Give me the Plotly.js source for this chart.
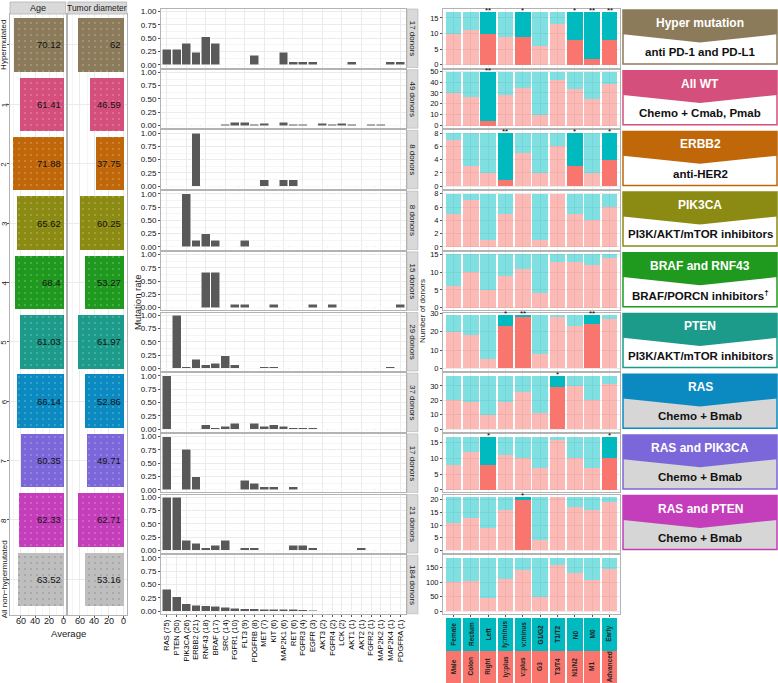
<!DOCTYPE html>
<html><head><meta charset="utf-8">
<script src="https://cdn.plot.ly/plotly-3.0.1.min.js"></script>
<style>html,body{margin:0;padding:0;background:#fff}</style>
</head><body><div id="chart" style="width:778px;height:683px"></div>
<script>
// ---------------- DATA ----------------
const groups = ['Hypermutated','1','2','3','4','5','6','7','8','All non\u2212hypermutated'];
const ageAvg = [70.12, 61.41, 71.88, 65.62, 68.4, 61.03, 66.14, 60.35, 62.33, 63.52];
const tumorAvg = [62, 46.59, 37.75, 60.25, 53.27, 61.97, 52.86, 49.71, 62.71, 53.16];
const donorCounts = [17, 49, 8, 8, 15, 29, 37, 17, 21, 184];
const averageTicks = [0, 20, 40, 60];

const genes = ['RAS (75)','PTEN (50)','PIK3CA (26)','ERBB2 (21)','RNF43 (18)','BRAF (17)','SRC (14)','FGFR1 (10)','FLT3 (9)','PDGFRB (8)','MET (7)','KIT (6)','MAP2K1 (6)','RET (6)','FGFR3 (4)','EGFR (3)','AKT3 (2)','FGFR4 (2)','LCK (2)','AKT1 (1)','AKT2 (1)','FGFR2 (1)','MAP2K2 (1)','MAP2K4 (1)','PDGFRA (1)'];

const rateHyper    = [0.29,0.29,0.41,0.24,0.53,0.41,0,0,0,0.18,0,0,0.24,0.06,0.06,0.06,0,0,0,0.06,0,0,0,0.06,0.06];
const rateAllWT    = [0,0,0,0,0,0,0.02,0.06,0.06,0.02,0.04,0,0.06,0.02,0.02,0,0.04,0.02,0.04,0.02,0,0.02,0.02,0,0];
const rateERBB2    = [0,0,0,1,0,0,0,0,0,0,0.125,0,0.125,0.125,0,0,0,0,0,0,0,0,0,0,0];
const ratePIK3CA   = [0,0,1,0.125,0.25,0.125,0,0,0.125,0,0,0,0,0,0,0,0,0,0,0,0,0,0,0,0];
const rateBRAF     = [0,0,0,0,0.67,0.67,0,0.067,0.067,0,0,0.067,0,0,0,0.067,0,0.067,0,0,0,0,0,0,0.067];
const ratePTEN     = [0,1,0.034,0.17,0.07,0.10,0.24,0.07,0,0,0.034,0.034,0,0,0,0,0,0,0,0,0,0,0,0.034,0];
const rateRAS      = [1,0,0,0,0.081,0.027,0.054,0.108,0,0.108,0.054,0.081,0.054,0.027,0.027,0.027,0,0,0,0,0,0,0,0,0];
const rateRASPIK   = [1,0,0.76,0.24,0,0,0,0,0.18,0.12,0.06,0.06,0,0.06,0,0,0,0,0,0,0,0,0,0,0];
const rateRASPTEN  = [1,1,0.19,0.14,0.05,0.095,0.19,0,0.05,0.05,0,0,0,0.095,0.095,0.05,0,0,0,0,0.05,0,0,0,0];
const rateNonHyper = [0.41,0.27,0.14,0.11,0.098,0.092,0.076,0.054,0.049,0.043,0.038,0.033,0.033,0.033,0.022,0.016,0.011,0.011,0.011,0.005,0.005,0.005,0.005,0.005,0.005];

const clinicalTop    = ['Female','Rectum','Left','ly:minus','v:minus','G1/G2','T1/T2','N0','M0','Early'];
const clinicalBottom = ['Male','Colon','Right','ly:plus','v:plus','G3','T3/T4','N1/N2','M1','Advanced'];

// bottom (red) and top (cyan) donor counts per clinical factor
const lowHyper   = [10,11,10,9,9,6,13,8,2,8];      const highHyper   = [7,6,7,8,8,11,4,9,15,9];
const lowAllWT   = [30,26,4,28,35,10,42,34,24,38]; const highAllWT   = [19,23,45,21,14,39,7,15,25,11];
const lowERBB2   = [7,3,2,1,5,2,6,3,2,4];          const highERBB2   = [1,5,6,7,3,6,2,5,6,4];
const lowPIK3CA  = [5,7,1,5,8,1,8,5,4,6];          const highPIK3CA  = [3,1,7,3,0,7,0,3,4,2];
const lowBRAF    = [6,10,5,9,11,4,13,13,12,14];    const highBRAF    = [9,5,10,6,4,11,2,2,3,1];
const lowPTEN    = [20,18,5,23,28,8,28,23,24,27];  const highPTEN    = [9,11,24,6,1,21,1,6,5,2];
const lowRAS     = [20,19,10,19,26,11,29,30,20,31];const highRAS     = [17,18,27,18,11,26,8,7,17,6];
const lowRASPIK  = [8,12,8,11,10,7,16,10,7,10];    const highRASPIK  = [9,5,9,6,7,10,1,7,10,7];
const lowRASPTEN = [11,13,9,16,20,4,21,17,16,19];  const highRASPTEN = [10,8,12,5,1,17,0,4,5,2];
const lowNon     = [102,105,45,111,141,48,159,132,108,146]; const highNon = [82,79,139,73,43,136,25,52,76,38];

const sigHyper   = ['','','**','','*','','','*','**','**'];
const sigAllWT   = ['','','**','','','','','','',''];
const sigERBB2   = ['','','','**','','','','*','','*'];
const sigPIK3CA  = ['','','','','','','','','',''];
const sigBRAF    = ['','','','','','','','','',''];
const sigPTEN    = ['','','','*','**','','','','**',''];
const sigRAS     = ['','','','','','','*','','',''];
const sigRASPIK  = ['','','*','','','','','','','*'];
const sigRASPTEN = ['','','','','*','','','','',''];
const sigNon     = ['','','','','','','','','',''];

const therapyTitles = ['Hyper mutation','All WT','ERBB2','PIK3CA','BRAF and RNF43','PTEN','RAS','RAS and PIK3CA','RAS and PTEN'];
const therapyDrugs  = ['anti PD-1 and PD-L1','Chemo + Cmab, Pmab','anti-HER2','PI3K/AKT/mTOR inhibitors','BRAF/PORCN inhibitors<sup>\u2020</sup>','PI3K/AKT/mTOR inhibitors','Chemo + Bmab','Chemo + Bmab','Chemo + Bmab'];

const rateRows = [rateHyper,rateAllWT,rateERBB2,ratePIK3CA,rateBRAF,ratePTEN,rateRAS,rateRASPIK,rateRASPTEN,rateNonHyper];
const lowRows  = [lowHyper,lowAllWT,lowERBB2,lowPIK3CA,lowBRAF,lowPTEN,lowRAS,lowRASPIK,lowRASPTEN,lowNon];
const highRows = [highHyper,highAllWT,highERBB2,highPIK3CA,highBRAF,highPTEN,highRAS,highRASPIK,highRASPTEN,highNon];
const sigRows  = [sigHyper,sigAllWT,sigERBB2,sigPIK3CA,sigBRAF,sigPTEN,sigRAS,sigRASPIK,sigRASPTEN,sigNon];

// ---------------- STYLE / LAYOUT ----------------
const groupColors = ['#8C7B5A','#D44F7C','#C0670A','#8B8A12','#1F9A1F','#1C9A8A','#0A8AC0','#7B67D9','#C43DBA','#BEBEBE'];
const lowerFill = ['#ffffff','#ffffff','#ffffff','#ffffff','#ffffff','#ffffff','#d6d6d6','#d6d6d6','#d6d6d6'];
const W = 778, H = 683;
const X = p => p / W;
const Y = p => 1 - p / H;
const rowTop = i => 9 + i * 60.7;
const rowH = 58.5;
const FONT = 'Liberation Sans, Arial, sans-serif';
const GRID = '#ebebeb', BORDER = '#b3b3b3', TXT = '#1a1a1a';

const data = [];
const shapes = [];
const annotations = [];
const ann = o => annotations.push(Object.assign({showarrow: false, xanchor: 'center', yanchor: 'middle'}, o));
const layout = {
  width: W, height: H, margin: {l:0,r:0,t:0,b:0},
  paper_bgcolor: '#fff', plot_bgcolor: '#fff',
  font: {family: FONT, size: 9, color: TXT},
  showlegend: false, barmode: 'stack',
};

// ---- left: averages ----
[[ageAvg, 1, [10, 65.7], [75.4, -3.1], 'Age'], [tumorAvg, 2, [68, 126.7], [76.2, -4.4], 'Tumor diameter']].forEach(([vals, n, dom, rng, label]) => {
  const xs = n === 1 ? 'x' : 'x' + n, ys = n === 1 ? 'y' : 'y' + n;
  data.push({type:'bar', orientation:'h', y: groups, x: vals, xaxis: xs, yaxis: ys, width: 0.9,
    marker: {color: groupColors, line: {width: 0},
      pattern: {shape: '.', fillmode: 'overlay', fgcolor: '#ffffff', fgopacity: 0.25, size: 6, solidity: 0.08}},
    hoverinfo: 'skip'});
  layout[n === 1 ? 'xaxis' : 'xaxis' + n] = {domain: [X(dom[0]), X(dom[1])], range: rng, anchor: ys,
    tickvals: averageTicks, showticklabels: false, ticks: 'outside', ticklen: 2, tickcolor: '#555',
    showgrid: true, gridcolor: GRID, zeroline: false, showline: true, mirror: true, linecolor: BORDER,
    minor: {dtick: 10, tick0: 0, showgrid: true, gridcolor: '#f5f5f5'}};
  layout[n === 1 ? 'yaxis' : 'yaxis' + n] = {domain: [Y(615), Y(14)], anchor: xs, type: 'category',
    categoryorder: 'array', categoryarray: groups, range: [9.6, -0.52],
    showticklabels: false, ticks: n === 1 ? 'outside' : '', ticklen: 2, tickcolor: '#555',
    showgrid: true, gridcolor: GRID, showline: true, mirror: true, linecolor: BORDER};
  shapes.push({type:'rect', xref:'paper', yref:'paper', x0: X(dom[0]), x1: X(dom[1]), y0: Y(14), y1: Y(2),
    fillcolor: '#d9d9d9', line: {color: BORDER, width: 0.8}});
  ann({xref:'paper', yref:'paper', x: X((dom[0]+dom[1])/2), y: Y(8), text: label,
    font: {size: n === 1 ? 9 : 8.5, color: TXT}});
  vals.forEach((v, k) => ann({xref: xs, yref: ys, x: 0, y: groups[k], text: String(v),
    xanchor: 'right', xshift: -1, font: {size: 9.5, color: '#111'}}));
  averageTicks.forEach(t => ann({xref: xs, yref: 'paper', x: t, y: Y(621), text: String(t), font: {size: 9, color: TXT}}));
});
groups.forEach(g => ann({xref: 'paper', yref: 'y', x: X(4), y: g, text: g, textangle: -90, font: {size: 8, color: TXT}}));
ann({xref:'paper', yref:'paper', x: X(68), y: Y(633), text: 'Average', font: {size: 9.5, color: TXT}});

// ---- middle: mutation rates ----
rateRows.forEach((vals, i) => {
  const n = 3 + i, t = rowTop(i), last = i === rateRows.length - 1;
  data.push({type:'bar', x: genes, y: vals, xaxis: 'x' + n, yaxis: 'y' + n, width: 0.92,
    marker: {color: '#595959', line: {color: '#ffffff', width: 0.5}}, hoverinfo: 'skip'});
  layout['xaxis' + n] = {domain: [X(161), X(406)], anchor: 'y' + n, type: 'category', categoryorder: 'array', categoryarray: genes,
    range: [-0.6, 24.6], showticklabels: last, tickangle: -90, tickfont: {size: 7.5, color: '#000'},
    ticks: last ? 'outside' : '', ticklen: 2, tickcolor: '#555',
    showgrid: true, gridcolor: GRID, showline: true, mirror: true, linecolor: BORDER};
  layout['yaxis' + n] = {domain: [Y(t + rowH), Y(t)], anchor: 'x' + n, range: [-0.05, 1.05],
    tickvals: [0, 0.25, 0.5, 0.75, 1], tickformat: '.2f', tickfont: {size: 8, color: '#111'},
    ticks: 'outside', ticklen: 2, tickcolor: '#555', showgrid: true, gridcolor: GRID, zeroline: false,
    minor: {dtick: 0.125, tick0: 0, showgrid: true, gridcolor: '#f5f5f5'},
    showline: true, mirror: true, linecolor: BORDER};
  shapes.push({type:'rect', xref:'paper', yref:'paper', x0: X(407), x1: X(418), y0: Y(t + rowH), y1: Y(t),
    fillcolor: '#d9d9d9', line: {color: BORDER, width: 0.6}});
  ann({xref:'paper', yref:'paper', x: X(412.5), y: Y(t + rowH / 2), text: donorCounts[i] + ' donors',
    textangle: 90, font: {size: 8, color: TXT}});
});
ann({xref:'paper', yref:'paper', x: X(137), y: Y(303), text: 'Mutation rate', textangle: -90, font: {size: 9.5, color: TXT}});

// ---- right: clinical factor counts ----
const redLight = 'rgba(248,118,109,0.5)', redDark = '#F8766D';
const cyanLight = 'rgba(0,191,196,0.5)', cyanDark = '#00BAC0';
lowRows.forEach((low, i) => {
  const n = 13 + i, t = rowTop(i), T = donorCounts[i], sig = sigRows[i];
  const dt = T <= 10 ? 2 : T <= 25 ? 5 : T <= 50 ? 10 : 50;
  data.push({type:'bar', x: clinicalBottom, y: low, xaxis: 'x' + n, yaxis: 'y' + n, width: 0.9,
    marker: {color: sig.map(s => s ? redDark : redLight), line: {width: 0}}, hoverinfo: 'skip'});
  data.push({type:'bar', x: clinicalBottom, y: highRows[i], xaxis: 'x' + n, yaxis: 'y' + n, width: 0.9,
    marker: {color: sig.map(s => s ? cyanDark : cyanLight), line: {width: 0}}, hoverinfo: 'skip'});
  layout['xaxis' + n] = {domain: [X(443), X(620)], anchor: 'y' + n, type: 'category', categoryorder: 'array',
    categoryarray: clinicalBottom, range: [-0.6, 9.6], showticklabels: false,
    ticks: i === 9 ? 'outside' : '', ticklen: 2, tickcolor: '#555',
    showgrid: true, gridcolor: GRID, showline: true, mirror: true, linecolor: BORDER};
  layout['yaxis' + n] = {domain: [Y(t + rowH), Y(t)], anchor: 'x' + n, range: [-0.05 * T, 1.05 * T],
    dtick: dt, tick0: 0, tickfont: {size: 7.5, color: '#111'}, ticks: 'outside', ticklen: 2, tickcolor: '#555',
    showgrid: true, gridcolor: GRID, zeroline: false, showline: true, mirror: true, linecolor: BORDER};
  sig.forEach((s, k) => { if (s) ann({xref: 'x' + n, yref: 'y' + n, x: clinicalBottom[k], y: T,
    text: s, yanchor: 'bottom', yshift: -5, font: {size: 8, color: '#000'}}); });
});
ann({xref:'paper', yref:'paper', x: X(422), y: Y(311), text: 'Number of donors', textangle: -90, font: {size: 8, color: TXT}});

// ---- clinical factor key tiles ----
const tileUnit = clinicalBottom.map(() => 1);
data.push({type:'bar', x: clinicalBottom, y: tileUnit, xaxis: 'x23', yaxis: 'y23', width: 0.9, marker: {color: redDark, line: {width: 0}}, hoverinfo: 'skip'});
data.push({type:'bar', x: clinicalBottom, y: tileUnit, xaxis: 'x23', yaxis: 'y23', width: 0.9, marker: {color: cyanDark, line: {width: 0}}, hoverinfo: 'skip'});
layout.xaxis23 = {domain: [X(443), X(620)], anchor: 'y23', type: 'category', categoryorder: 'array', categoryarray: clinicalBottom,
  range: [-0.6, 9.6], showticklabels: false, showgrid: false, zeroline: false, ticks: ''};
layout.yaxis23 = {domain: [0, Y(618)], anchor: 'x23', range: [0, 2], showticklabels: false, showgrid: false, zeroline: false, ticks: ''};
clinicalBottom.forEach((lab, k) => {
  ann({xref: 'x23', yref: 'y23', x: lab, y: 0.5, text: '<b>' + lab + '</b>', textangle: -90, font: {size: 6.5, color: '#222'}});
  ann({xref: 'x23', yref: 'y23', x: lab, y: 1.5, text: '<b>' + clinicalTop[k] + '</b>', textangle: -90, font: {size: 6.5, color: '#222'}});
});

// ---- therapy boxes ----
therapyTitles.forEach((title, i) => {
  const top = rowTop(i) + 1, bot = rowTop(i) + 55, h = bot - top;
  const x0 = 623, x1 = 777, xm = 700;
  shapes.push({type:'rect', xref:'paper', yref:'paper', x0: X(x0), x1: X(x1), y0: Y(bot), y1: Y(top),
    fillcolor: lowerFill[i], line: {color: groupColors[i], width: 1.5}});
  const path = `M ${X(x0)},${Y(top)} L ${X(x1)},${Y(top)} L ${X(x1)},${Y(top + 0.45 * h)} L ${X(xm)},${Y(top + 0.6 * h)} L ${X(x0)},${Y(top + 0.45 * h)} Z`;
  shapes.push({type:'path', xref:'paper', yref:'paper', path: path, fillcolor: groupColors[i], line: {width: 0}});
  ann({xref:'paper', yref:'paper', x: X(xm), y: Y(top + 0.24 * h), text: '<b>' + title + '</b>', font: {size: 12, color: '#fff'}});
  ann({xref:'paper', yref:'paper', x: X(xm), y: Y(top + 0.78 * h), text: '<b>' + therapyDrugs[i] + '</b>', font: {size: 11.5, color: '#111'}});
});

layout.shapes = shapes;
layout.annotations = annotations;
Plotly.newPlot('chart', data, layout, {displayModeBar: false, staticPlot: true});
</script></body></html>
